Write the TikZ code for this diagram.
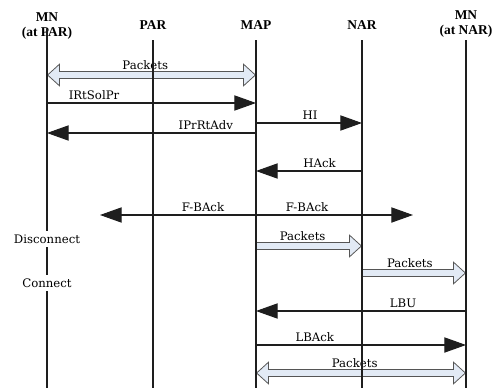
\documentclass[tikz,border=0pt]{standalone}
\usepackage{fontspec}
\setmainfont{Liberation Serif}
\newfontfamily\lblfont{DejaVu Serif}
\usepackage{tikz}
\usetikzlibrary{arrows.meta}

\definecolor{blkfill}{RGB}{226,234,245}
\definecolor{blkedge}{RGB}{85,85,85}
\definecolor{linegray}{RGB}{30,30,30}

\begin{document}
\begin{tikzpicture}[
    x=0.03cm, y=-0.03cm,
    every node/.style={font=\lblfont\fontsize{10}{12}\selectfont},
    head/.style={font=\bfseries\fontsize{11.5}{13.5}\selectfont, align=center, anchor=south, inner sep=0pt},
    life/.style={draw=linegray, line width=0.9pt},
    msg/.style={draw=linegray, line width=0.9pt, -{Triangle[length=18.5pt,width=13pt]}},
    lbl/.style={anchor=base, yshift=3.4pt, inner sep=0pt},
    pktlbl/.style={anchor=base, yshift=5pt, inner sep=0pt},
    blk/.style={draw=blkedge, line width=7.5pt, -{Triangle[length=11pt,width=20pt,line width=0pt]},
        postaction={draw=blkfill, line width=5.9pt, -{Triangle[length=9pt,width=16.4pt,line width=0pt]}, shorten >=1.2pt}},
    blkboth/.style={draw=blkedge, line width=7.5pt,
        {Triangle[length=11pt,width=20pt,line width=0pt]}-{Triangle[length=11pt,width=20pt,line width=0pt]},
        postaction={draw=blkfill, line width=5.9pt,
        {Triangle[length=9pt,width=16.4pt,line width=0pt]}-{Triangle[length=9pt,width=16.4pt,line width=0pt]},
        shorten >=1.2pt, shorten <=1.2pt}},
    state/.style={fill=white, inner xsep=1pt, inner ysep=3pt}
]
\useasboundingbox (0,0) rectangle (496,388);

% entities
\node[head] (mn1) at (47,40) {MN\\(at PAR)};
\node[head] (par) at (153,30) {PAR};
\node[head] (map) at (256,30) {MAP};
\node[head] (nar) at (362,30) {NAR};
\node[head] (mn2) at (466,38) {MN\\(at NAR)};

% rows
\coordinate (top1) at (0,29);
\coordinate (top) at (0,40);
\coordinate (bot) at (0,388);
\coordinate (r-pk1) at (0,75);
\coordinate (r-sol) at (0,103);
\coordinate (r-hi) at (0,123);
\coordinate (r-adv) at (0,133);
\coordinate (r-hack) at (0,171);
\coordinate (r-pk2) at (0,246);
\coordinate (r-pk3) at (0,273);
\coordinate (r-lbu) at (0,311);
\coordinate (r-lback) at (0,345);
\coordinate (r-pk4) at (0,373);
\coordinate (fb-l) at (100,215);
\coordinate (fb-r) at (413,215);

% data packets
\draw[blkboth] (mn1 |- r-pk1) -- node[pktlbl, pos=0.47] (t-pk1) {Packets} (map |- r-pk1);
\draw[blk] (map |- r-pk2) -- node[pktlbl, pos=0.44] (t-pk2) {Packets} (nar |- r-pk2);
\draw[blk] (nar |- r-pk3) -- node[pktlbl, pos=0.46] (t-pk3) {Packets} (mn2 |- r-pk3);
\draw[blkboth] (map |- r-pk4) -- node[pktlbl, pos=0.47] (t-pk4) {Packets} (mn2 |- r-pk4);

% lifelines
\draw[life] (mn1 |- top1) -- (mn1 |- bot);
\draw[life] (par |- top) -- (par |- bot);
\draw[life] (map |- top) -- (map |- bot);
\draw[life] (nar |- top) -- (nar |- bot);
\draw[life] (mn2 |- top) -- (mn2 |- bot);

% signalling
\draw[msg] (mn1 |- r-sol) -- node[lbl, pos=0.225] (t-sol) {IRtSolPr} (map |- r-sol);
\draw[msg] (map |- r-hi) -- node[lbl, pos=0.51] (t-hi) {HI} (nar |- r-hi);
\draw[msg] (map |- r-adv) -- node[lbl, pos=0.24] (t-adv) {IPrRtAdv} (mn1 |- r-adv);
\draw[msg] (nar |- r-hack) -- node[lbl, pos=0.40] (t-hack) {HAck} (map |- r-hack);
\draw[msg] (map |- fb-l) -- node[lbl, pos=0.34] (t-fbl) {F-BAck} (fb-l);
\draw[msg] (map |- fb-r) -- node[lbl, pos=0.325] (t-fbr) {F-BAck} (fb-r);
\draw[msg] (mn2 |- r-lbu) -- node[lbl, pos=0.30] (t-lbu) {LBU} (map |- r-lbu);
\draw[msg] (map |- r-lback) -- node[lbl, pos=0.28] (t-lback) {LBAck} (mn2 |- r-lback);

% link state of the MN
\node[state] (disc) at (47,239) {Disconnect};
\node[state] (conn) at (47,283) {Connect};
\end{tikzpicture}
\end{document}
